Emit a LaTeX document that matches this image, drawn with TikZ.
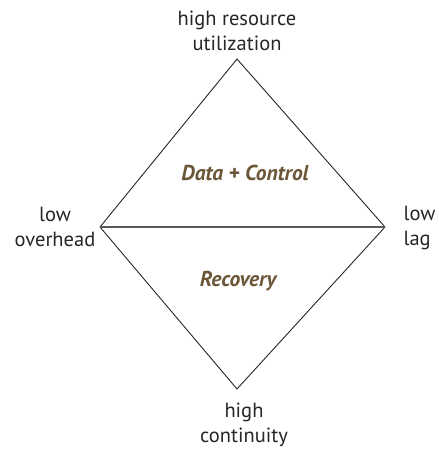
\documentclass[tikz,border=0pt]{standalone}
\usepackage{fontspec}
\setmainfont{PT Sans}
\usetikzlibrary{positioning}
\definecolor{areabrown}{HTML}{6B5637}
\tikzset
{
    goal/.style = {align=center, font=\fontsize{20.5}{25.5}\selectfont, text=black!85},
    area/.style = {font=\fontsize{21.5}{24}\selectfont\bfseries\itshape, text=areabrown},
    edge/.style = {draw=black!85, line width=0.9pt}
}

\begin{document}
\begin{tikzpicture}[x=1pt,y=-1pt]
\useasboundingbox (0,0) rectangle (439,451);
\coordinate (top) at (237,59);
\coordinate (left) at (100,227);
\coordinate (right) at (385,227);
\coordinate (bottom) at (237,389);
\draw[edge] (top) -- (right) -- (bottom) -- (left) -- cycle;
\draw[edge, draw=black!65, line width=1.2pt] (left) -- (right);
\node[goal] (util) at (237,31) {high resource\\utilization};
\node[goal] (overhead) at (55,227) {low\\overhead};
\node[goal, align=left, anchor=west] (lag) at (400,228) {low\\lag};
\node[goal] (cont) at (244,425) {high\\continuity};
\node[area] (dc) at (245,173) {Data + Control};
\node[area] (rec) at (238,281) {Recovery};
\end{tikzpicture}
\end{document}
